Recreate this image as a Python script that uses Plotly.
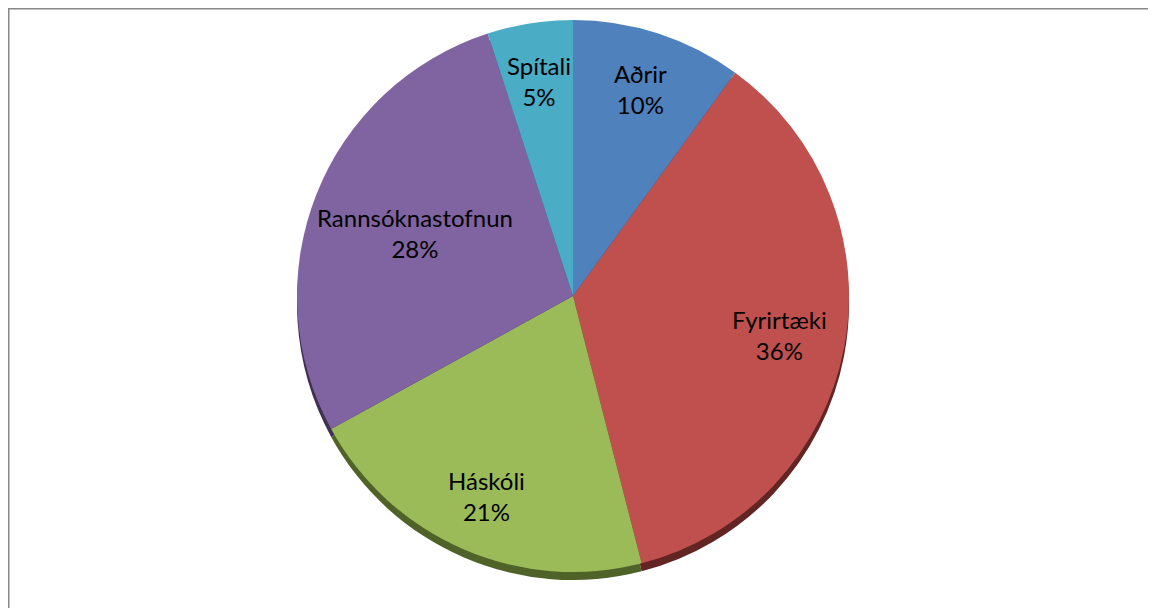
import math
import plotly.graph_objects as go

labels = ["Aðrir", "Fyrirtæki", "Háskóli", "Rannsóknastofnun", "Spítali"]
values = [10, 36, 21, 28, 5]
colors = ["#4F81BD", "#C0504D", "#9BBB59", "#8064A2", "#4BACC6"]
shadow_colors = ["#2C4D75", "#632523", "#4F6228", "#3F3151", "#215967"]

W, H = 1148, 600          # page body adds an 8px offset
cx, cy, r = 565, 288, 276
FONT = 24

def dom(dy=0):
    return dict(x=[(cx - r) / W, (cx + r) / W],
                y=[(H - cy - dy - r) / H, (H - cy - dy + r) / H])

fig = go.Figure()
fig.add_trace(go.Pie(
    labels=labels, values=values, sort=False, direction="clockwise", rotation=0,
    marker=dict(colors=shadow_colors, line=dict(width=0)),
    textinfo="none", hoverinfo="skip", showlegend=False, domain=dom(8),
))
fig.add_trace(go.Pie(
    labels=labels,
    values=values,
    sort=False,
    direction="clockwise",
    rotation=0,
    marker=dict(colors=colors, line=dict(width=0)),
    textinfo="none",
    showlegend=False,
    hoverinfo="label+percent",
    domain=dom(0),
))

# data labels placed Excel-style (inside, ~0.78 radius, pulled in to fit)
total = sum(values)
annotations = []
cum = 0
for lab, v in zip(labels, values):
    theta = math.radians((cum + v / 2) / total * 360)
    cum += v
    ux, uy = math.sin(theta), -math.cos(theta)
    hw = len(lab) * 0.5 * FONT / 2
    hh = FONT * 1.1
    rho = 0.79 * r
    while rho > 0:
        fx = abs(ux * rho) + hw
        fy = abs(uy * rho) + hh
        if math.hypot(fx, fy) <= 0.98 * r:
            break
        rho -= 2
    px, py = cx + ux * rho, cy + uy * rho
    pct = round(v / total * 100)
    annotations.append(dict(
        x=px / W, y=(H - py) / H, xref="paper", yref="paper",
        text=f"{lab}<br>{pct}%", showarrow=False,
        font=dict(family="Lato", size=FONT, color="#000000"),
        xanchor="center", yanchor="middle", align="center",
    ))

fig.update_layout(
    width=W, height=H,
    margin=dict(l=0, r=0, t=0, b=0),
    paper_bgcolor="white",
    plot_bgcolor="white",
    annotations=annotations,
    shapes=[
        dict(type="line", xref="paper", yref="paper", x0=0, x1=1.05, y0=1 - 0.5 / H, y1=1 - 0.5 / H,
             line=dict(color="#888888", width=2)),
        dict(type="line", xref="paper", yref="paper", x0=0.5 / W, x1=0.5 / W, y0=-0.05, y1=1,
             line=dict(color="#888888", width=2)),
    ],
)

fig.write_html("out.html")
